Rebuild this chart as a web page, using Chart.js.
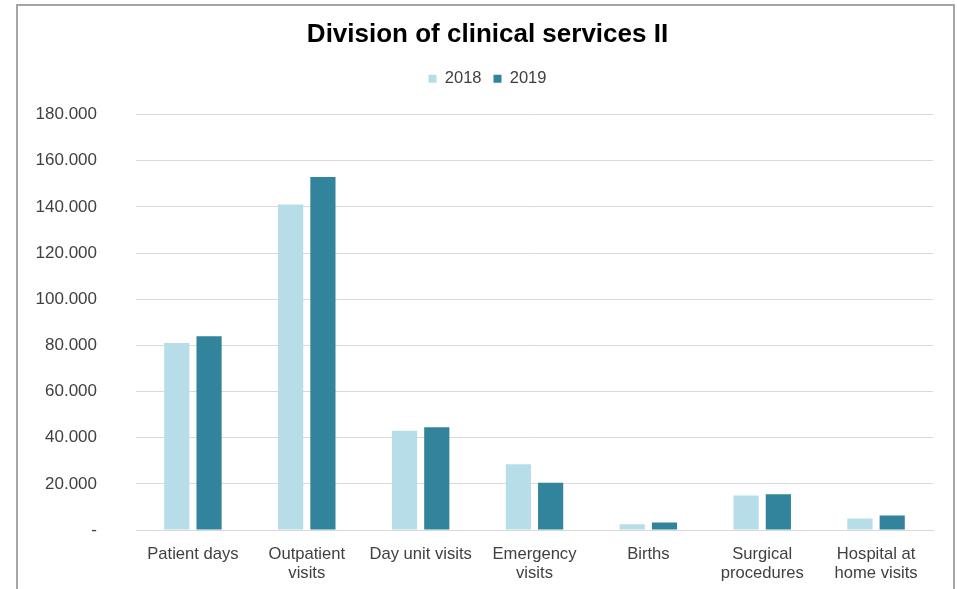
<!DOCTYPE html>
<html>
<head>
<meta charset="utf-8">
<script src="https://cdn.jsdelivr.net/npm/chart.js@4.4.0/dist/chart.umd.min.js"></script>
<style>
  html, body { margin: 0; padding: 0; background: #fff; }
  #wrap { width: 957px; height: 589px; position: relative; }
</style>
</head>
<body>
<div id="wrap"><canvas id="myChart"></canvas></div>
<script>
const categories = [
    ['Patient days'],
    ['Outpatient', 'visits'],
    ['Day unit visits'],
    ['Emergency', 'visits'],
    ['Births'],
    ['Surgical', 'procedures'],
    ['Hospital at', 'home visits']
];
const seriesNames = ['2018', '2019'];
const values2018 = [81000, 141000, 43000, 28500, 2500, 15000, 5000];
const values2019 = [84000, 153000, 44500, 20500, 3200, 15500, 6300];
const yMax = 180000;
const yStep = 20000;

const fontFamily = "'Liberation Sans', Arial, sans-serif";
const textColor = '#404040';

// frame around the chart, like the Excel chart border
const framePlugin = {
    id: 'frame',
    beforeDraw: function (chart) {
        const ctx = chart.ctx;
        ctx.save();
        ctx.fillStyle = '#ffffff';
        ctx.fillRect(0, 0, chart.width, chart.height);
        ctx.strokeStyle = '#a6a6a6';
        ctx.lineWidth = 2;
        ctx.strokeRect(17, 5, 937, 700);
        ctx.restore();
    }
};

// leave some extra room under the legend before the plot starts
const legendGapPlugin = {
    id: 'legendGap',
    beforeLayout: function (chart) {
        const lg = chart.legend;
        if (lg && !lg._gapPatched) {
            const origFit = lg.fit;
            lg.fit = function () {
                origFit.call(this);
                this.height += 17.5;
            };
            lg._gapPatched = true;
        }
    }
};

function formatTick(value) {
    if (value === 0) {
        return '-';
    }
    return String(value).replace(/\B(?=(\d{3})+(?!\d))/g, '.');
}

const ctx = document.getElementById('myChart').getContext('2d');
new Chart(ctx, {
    type: 'bar',
    data: {
        labels: categories,
        datasets: [
            {
                label: seriesNames[0],
                data: values2018,
                backgroundColor: '#b7dde8',
                borderWidth: 0,
                categoryPercentage: 0.567,
                barPercentage: 0.78
            },
            {
                label: seriesNames[1],
                data: values2019,
                backgroundColor: '#31849b',
                borderWidth: 0,
                categoryPercentage: 0.567,
                barPercentage: 0.78
            }
        ]
    },
    options: {
        responsive: true,
        maintainAspectRatio: false,
        animation: false,
        layout: {
            padding: { left: 30, right: 12, top: 0, bottom: 0 }
        },
        scales: {
            y: {
                min: 0,
                max: yMax,
                border: { display: false },
                grid: {
                    color: '#d9d9d9',
                    lineWidth: 1,
                    drawTicks: false
                },
                ticks: {
                    stepSize: yStep,
                    padding: 39,
                    color: textColor,
                    font: { family: fontFamily, size: 17 },
                    callback: function (value) {
                        return formatTick(value);
                    }
                },
                afterFit: function (scale) {
                    scale.width = 106;
                }
            },
            // empty right-hand axis, only keeps a margin on the right side
            yRight: {
                position: 'right',
                display: true,
                border: { display: false },
                grid: { display: false, drawTicks: false },
                ticks: { display: false },
                afterFit: function (scale) {
                    scale.width = 12;
                }
            },
            x: {
                border: { display: true, color: '#d9d9d9', width: 1 },
                grid: { display: false, drawTicks: false },
                ticks: {
                    padding: 14,
                    color: textColor,
                    maxRotation: 0,
                    autoSkip: false,
                    font: { family: fontFamily, size: 16.6, lineHeight: 1.2 }
                },
                afterFit: function (scale) {
                    scale.height = 59;
                }
            }
        },
        plugins: {
            title: {
                display: true,
                text: 'Division of clinical services II',
                color: '#000000',
                font: { family: fontFamily, size: 26, weight: 'bold', lineHeight: 1.2 },
                padding: { top: 19.5, bottom: 7.9 }
            },
            legend: {
                display: true,
                position: 'top',
                labels: {
                    boxWidth: 8,
                    boxHeight: 8,
                    padding: 12,
                    color: textColor,
                    font: { family: fontFamily, size: 16.5 }
                }
            },
            tooltip: { enabled: false }
        }
    },
    plugins: [framePlugin, legendGapPlugin]
});
</script>
</body>
</html>
